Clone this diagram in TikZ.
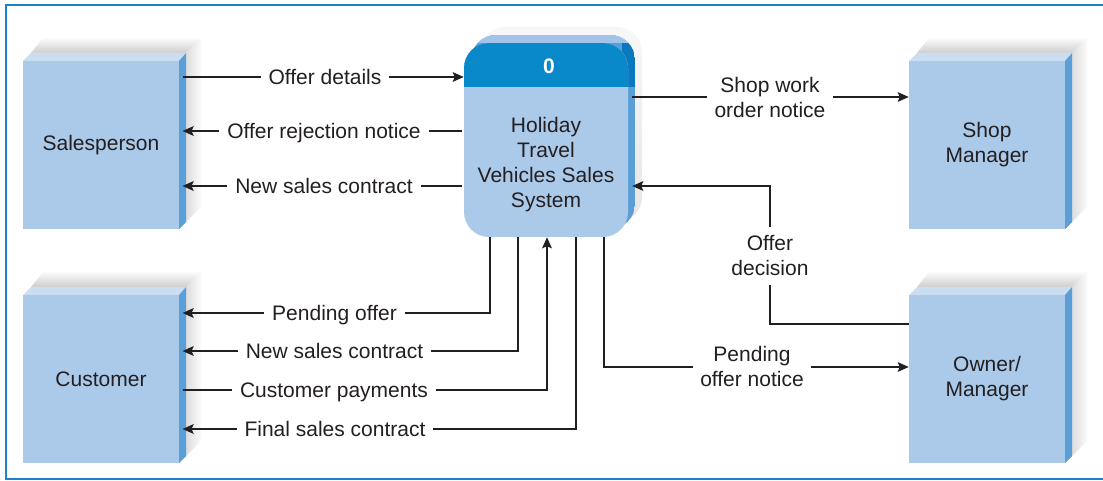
\documentclass[tikz,border=0pt]{standalone}
\usepackage{fontspec}
\setmainfont{Liberation Sans}
\usetikzlibrary{arrows.meta,calc}
\definecolor{ink}{HTML}{231F20}
\definecolor{face}{HTML}{ABC9E9}
\definecolor{bevtop}{HTML}{CBDDF1}
\definecolor{bevside}{HTML}{5B9FD8}
\definecolor{proctop}{HTML}{A3C4EA}
\definecolor{head}{HTML}{0A89CA}
\definecolor{headside}{HTML}{0A78BE}
\definecolor{frame}{HTML}{1D82CC}
\tikzset{
  entity/.style={fill=face, minimum width=156pt, minimum height=168pt, inner sep=0pt,
    text=ink, align=center, font=\fontsize{21}{25}\selectfont},
  lentity/.style={entity, outer xsep=3.5pt},
  procbox/.style={fill=face, rounded corners=25pt, minimum width=164pt, minimum height=194pt, inner sep=0pt},
  flow/.style={draw=ink, line width=2.3pt, -{Stealth[length=11pt,width=9.5pt,inset=2pt]}},
  lbl/.style={fill=white, text=ink, align=center, font=\fontsize{21}{25}\selectfont, inner xsep=8pt, inner ysep=3pt},
  lblone/.style={lbl, text height=15pt, text depth=0pt, inner ysep=5pt},
  ptext/.style={text=ink, align=center, font=\fontsize{21}{25}\selectfont, inner sep=0pt},
}
\newcommand\extbox[5]{%
\begin{scope}[shift={(#2,#3)}]
  \shade[top color=gray!3, bottom color=gray!38] (8,-8) -- (20,-23) -- (178,-23) -- (163,-8) -- cycle;
  \shade[left color=gray!38, right color=gray!3] (163,-8) -- (178,-23) -- (178,146) -- (156,168) -- cycle;
  \fill[bevtop] (0,0) -- (8,-8) -- (163,-8) -- (156,0) -- cycle;
  \fill[bevside] (156,0) -- (163,-8) -- (163,161) -- (156,168) -- cycle;
  \node[#4] (#1) at (78,84) {#5};
\end{scope}}
\begin{document}
\begin{tikzpicture}[x=1pt,y=-1pt]
\useasboundingbox (0,0) rectangle (1103,481);
% frame
\draw[frame, line width=2pt] (1103,5) -- (6,5) -- (6,479) -- (1103,479);
% external entities
\extbox{sales}{23}{61}{lentity}{Salesperson}
\extbox{cust}{23}{295}{lentity}{Customer}
\extbox{shop}{909}{61}{entity}{Shop\\Manager}
\extbox{owner}{909}{295}{entity}{Owner/\\Manager}
% process: shadow and extrusion
\shade[top color=gray!6, bottom color=gray!20, rounded corners=25pt] (480,27) rectangle (642,222);
\begin{scope}
  \clip[rounded corners=25pt] (471,35) rectangle (635,229);
  \fill[bevside] (471,35) rectangle (635,229);
  \fill[proctop] (471,35) rectangle (635,43);
  \fill[headside] (622,43) rectangle (635,87);
\end{scope}
\node[procbox] (proc) at (546,140) {};
\begin{scope}
  \clip[rounded corners=25pt] (464,43) rectangle (628,237);
  \fill[head] (464,43) rectangle (628,87);
\end{scope}
\node[text=white, font=\fontsize{21}{25}\selectfont\bfseries, inner sep=0pt] (pnum) at (549,66) {0};
\node[ptext] (ptxt) at (546,164.5) {Holiday\\Travel\\Vehicles Sales\\System};
% connectors
\draw[flow] (sales.east |- 0,77) -- (proc.west |- 0,77);
\draw[flow] ($(proc.west |- 0,131)+(-2,0)$) -- (sales.east |- 0,131);
\draw[flow] ($(proc.west |- 0,186)+(-2,0)$) -- (sales.east |- 0,186);
\draw[flow] ($(proc.east |- 0,97)+(4,0)$) -- (shop.west |- 0,97);
\draw[flow] (owner.west |- 0,324) -| (770,186) -- ($(proc.east |- 0,186)+(4,0)$);
\draw[flow] (proc.south -| 604,0) |- (owner.west |- 0,367);
\draw[flow] (proc.south -| 490,0) |- (cust.east |- 0,313);
\draw[flow] (proc.south -| 518,0) |- (cust.east |- 0,351);
\draw[flow] (cust.east |- 0,390) -| (proc.south -| 547,0);
\draw[flow] (proc.south -| 576,0) |- (cust.east |- 0,429);
% labels
\node[lblone] (l1) at (325,77) {Offer details};
\node[lblone] (l2) at (324,131) {Offer rejection notice};
\node[lblone] (l3) at (324,186) {New sales contract};
\node[lbl] (l4) at (770,97.5) {Shop work\\order notice};
\node[lbl, inner ysep=9pt] (l5) at (770,256) {Offer\\decision};
\node[lbl, inner xsep=7pt] (l6) at (752,366.5) {Pending\\offer notice};
\node[lblone] (l7) at (334.5,313) {Pending offer};
\node[lblone] (l8) at (334.5,351) {New sales contract};
\node[lblone] (l9) at (334,390) {Customer payments};
\node[lblone] (l10) at (335,429) {Final sales contract};
\end{tikzpicture}
\end{document}
